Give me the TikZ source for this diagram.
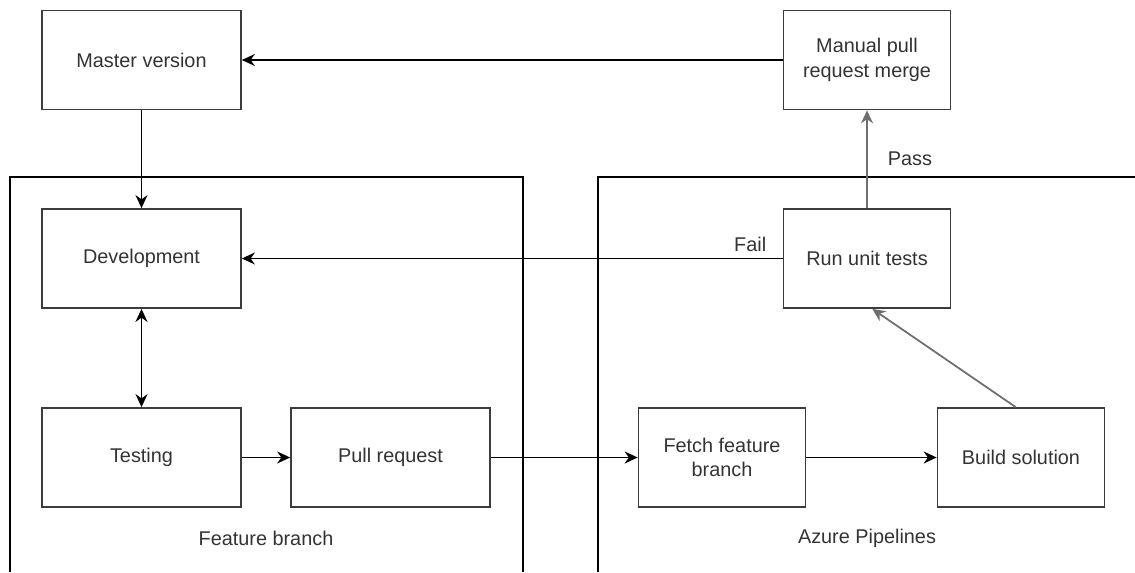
\documentclass[tikz,border=0pt]{standalone}
\usepackage{fontspec}
\setmainfont{Liberation Sans}
\usepackage{xcolor}
\usepackage{tikz}
\usetikzlibrary{arrows.meta, positioning}

\definecolor{boxline}{HTML}{3C3C3C}
\definecolor{txt}{HTML}{333333}
\definecolor{greyarrow}{HTML}{6E6E6E}

\begin{document}
\begin{tikzpicture}[x=0.02cm, y=-0.02cm,
  box/.style={draw=boxline, line width=1pt, minimum height=1.98cm, align=center, text=txt, font=\fontsize{11.3}{14}\selectfont},
  wide/.style={box, minimum width=3.98cm},
  narrow/.style={box, minimum width=3.34cm},
  conn/.style={line width=1pt, -{Stealth[length=2.6mm, width=2.4mm]}},
  lbl/.style={text=txt, font=\fontsize{11.3}{14}\selectfont}]
\useasboundingbox (0,0) rectangle (1135,572);
% containers
\draw[line width=0.8pt] (10,572) -- (10,177) -- (523,177) -- (523,572);
\draw[line width=0.8pt] (598,572) -- (598,177) -- (1135,177);
\node[lbl] (featlbl) at (266,538) {Feature branch};
\node[lbl] (azurelbl) at (867,538) {Azure Pipelines};
% boxes
\node[wide] (master) at (141.5,60) {Master version};
\node[narrow] (merge) at (867,60) {Manual pull\\request merge};
\node[wide] (dev) at (141.5,258.5) {Development};
\node[narrow] (unit) at (867,258.5) {Run unit tests};
\node[wide] (test) at (141.5,457.5) {Testing};
\node[wide] (pull) at (390.5,457.5) {Pull request};
\node[narrow] (fetch) at (722,457.5) {Fetch feature\\branch};
\node[narrow] (build) at (1021,457.5) {Build solution};
% arrows
\draw[conn] (master) -- (dev);
\draw[conn] (merge) -- (master);
\draw[conn, draw=greyarrow] (unit) -- node[lbl, right, pos=0.5, xshift=8pt] (pass) {Pass} (merge);
\draw[conn] (unit) -- node[lbl, above, pos=0.06] (fail) {Fail} (dev);
\draw[line width=1pt, {Stealth[length=2.6mm, width=2.4mm]}-{Stealth[length=2.6mm, width=2.4mm]}] (dev) -- (test);
\draw[conn] (test) -- (pull);
\draw[conn] (pull) -- (fetch);
\draw[conn] (fetch) -- (build);
\draw[conn, draw=greyarrow] ([xshift=-3]build.north) -- ([xshift=3]unit.south);
\end{tikzpicture}
\end{document}
